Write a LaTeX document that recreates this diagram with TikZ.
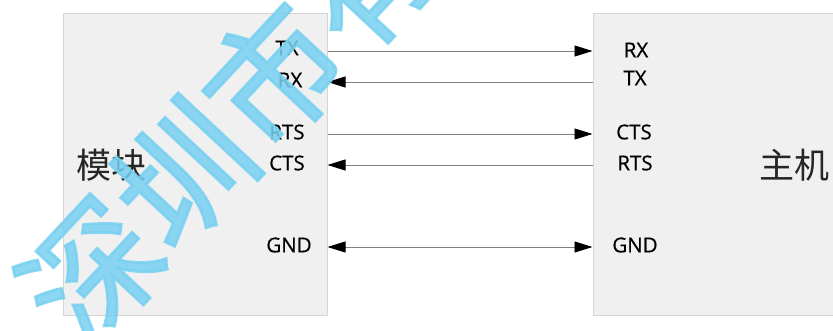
\documentclass[tikz,border=0pt]{standalone}
\usepackage{fontspec}
\setmainfont{Open Sans}
\newfontfamily\pinfont[FakeBold=0.6]{Open Sans}
\newfontfamily\cjk{Noto Sans CJK SC}
\newfontfamily\wmfont[FakeBold=2]{Noto Sans CJK SC}
\usetikzlibrary{arrows.meta}
\definecolor{boxfill}{HTML}{F0F0F0}
\definecolor{boxline}{HTML}{D6D6CC}
\definecolor{wire}{HTML}{808080}
\definecolor{wm}{HTML}{78D0F0}
\begin{document}
\begin{tikzpicture}[x=1pt,y=-1pt,
  blk/.style={draw=boxline,fill=boxfill,line width=1pt,minimum width=264pt,minimum height=301pt,inner sep=0pt},
  pin/.style={font=\pinfont\fontsize{20.5}{20.5}\selectfont,inner sep=0pt,text=black},
  title/.style={font=\cjk\fontsize{35}{35}\selectfont,inner sep=0pt,text=black!85},
  wireline/.style={draw=wire,line width=0.8pt},
  tipR/.style={-{Triangle[length=18pt,width=11pt,color=black,fill=black]}},
  tipL/.style={{Triangle[length=18pt,width=11pt,color=black,fill=black]}-},
  tipB/.style={{Triangle[length=18pt,width=11pt,color=black,fill=black]}-{Triangle[length=18pt,width=11pt,color=black,fill=black]}}]
\useasboundingbox (0,0) rectangle (833,331);
\clip (0,0) rectangle (833,331);
\fill[white] (0,0) rectangle (833,331);
% boxes
\node[blk] (L) at (195,164.5) {};
\node[blk] (R) at (725,164.5) {};
\node[title] (Lt) at (111,165) {模块};
\node[title] (Rt) at (794,165) {主机};
% pin labels
\node[pin] (ltx) at (287,48) {TX};
\node[pin] (lrx) at (290,80) {RX};
\node[pin] (lrts) at (287,132) {RTS};
\node[pin] (lcts) at (287,163) {CTS};
\node[pin] (lgnd) at (289,245) {GND};
\node[pin] (rrx) at (636,50) {RX};
\node[pin] (rtx) at (635,78) {TX};
\node[pin] (rcts) at (634,132) {CTS};
\node[pin] (rrts) at (635,163) {RTS};
\node[pin] (rgnd) at (635,245) {GND};
% connector ends
\coordinate (a1) at (L.east |- 0,51);  \coordinate (b1) at (R.west |- 0,51);
\coordinate (a2) at (L.east |- 0,82);  \coordinate (b2) at (R.west |- 0,82);
\coordinate (a3) at (L.east |- 0,134); \coordinate (b3) at (R.west |- 0,134);
\coordinate (a4) at (L.east |- 0,165); \coordinate (b4) at (R.west |- 0,165);
\coordinate (a5) at (L.east |- 0,247); \coordinate (b5) at (R.west |- 0,247);
\draw[wireline,tipR] (a1) -- (b1);
\draw[wireline,tipL] (a2) -- (b2);
\draw[wireline,tipR] (a3) -- (b3);
\draw[wireline,tipL] (a4) -- (b4);
\draw[wireline,tipB] (a5) -- (b5);
% watermark
\node[rotate=47,text=wm,opacity=0.85,inner sep=0pt,font=\wmfont\fontsize{134}{134}\selectfont] (wmk) at (228,124) {深圳市有};
\end{tikzpicture}
\end{document}
